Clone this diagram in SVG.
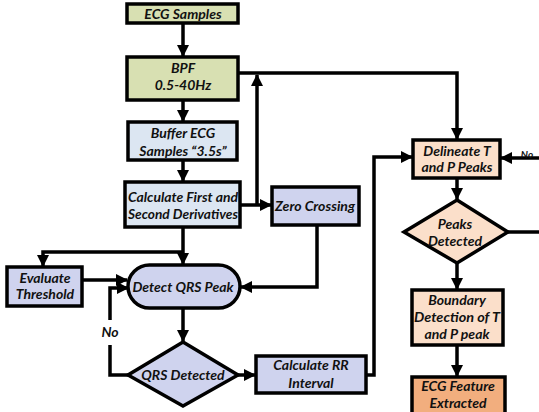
<svg xmlns="http://www.w3.org/2000/svg" width="539" height="412" viewBox="0 0 539 412">
<style>
.n{stroke:#000;stroke-width:3.5}
.g{fill:#d8e0b2}
.b{fill:#dce6f2}
.l{fill:#cfd3ee}
.p{fill:#fbdfca}
.o{fill:#f2ae7e}
text{font-family:Lato,"Open Sans","Liberation Sans",sans-serif;font-weight:bold;font-style:italic;font-size:14px;text-anchor:middle;fill:#111}
.c{fill:none;stroke:#000;stroke-width:3.5}
</style>
<defs>
<marker id="a" markerUnits="userSpaceOnUse" markerWidth="12" markerHeight="12" viewBox="0 0 12 12" refX="11" refY="6" orient="auto">
<path d="M0,0 L12,6 L0,12 Z" fill="#000"/>
</marker>
</defs>
<rect width="539" height="412" fill="#fff"/>
<g id="connectors">
<path class="c" d="M183 23 V56" marker-end="url(#a)"/>
<path class="c" d="M183 100 V121" marker-end="url(#a)"/>
<path class="c" d="M183 160 V181" marker-end="url(#a)"/>
<path class="c" d="M240 205 H271" marker-end="url(#a)"/>
<path class="c" d="M257 205 V75" marker-end="url(#a)"/>
<path class="c" d="M238 73 H457 V139" marker-end="url(#a)"/>
<path class="c" d="M183 227 V264" marker-end="url(#a)"/>
<path class="c" d="M183 252 H43 V266" marker-end="url(#a)"/>
<path class="c" d="M317 225 V287 H241" marker-end="url(#a)"/>
<path class="c" d="M82 280 H127" marker-end="url(#a)"/>
<path class="c" d="M183 308 V341" marker-end="url(#a)"/>
<path class="c" d="M128 375 H110 V345"/>
<path class="c" d="M110 320 V288 H128" marker-end="url(#a)"/>
<path class="c" d="M238 375 H255" marker-end="url(#a)"/>
<path class="c" d="M366 375 H374 V157 H412" marker-end="url(#a)"/>
<path class="c" d="M539 158 H501" marker-end="url(#a)"/>
<path class="c" d="M457 178 V199" marker-end="url(#a)"/>
<path class="c" d="M508 232 H539"/>
<path class="c" d="M457 263 V289" marker-end="url(#a)"/>
<path class="c" d="M457 345 V376" marker-end="url(#a)"/>
<text x="110" y="337">No</text>
<text x="527" y="158" style="font-size:10px">No</text>
</g>
<g id="ecg-samples"><rect class="n g" x="127" y="4" width="111" height="19"/><text x="183" y="19">ECG Samples</text></g>
<g id="bpf"><rect class="n g" x="127" y="57" width="111" height="43"/><text x="183" y="73">BPF</text><text x="183" y="90">0.5-40Hz</text></g>
<g id="buffer"><rect class="n b" x="128" y="122" width="109" height="38"/><text x="183" y="138">Buffer ECG</text><text x="183" y="156">Samples “3.5s”</text></g>
<g id="derivatives"><rect class="n b" x="125" y="182" width="115" height="45"/><text x="183" y="202" textLength="110" lengthAdjust="spacingAndGlyphs">Calculate First and</text><text x="183" y="219" textLength="110" lengthAdjust="spacingAndGlyphs">Second Derivatives</text></g>
<g id="zero-crossing"><rect class="n l" x="272" y="187" width="87" height="38"/><text x="315" y="211" textLength="80" lengthAdjust="spacingAndGlyphs">Zero Crossing</text></g>
<g id="evaluate"><rect class="n l" x="7" y="267" width="75" height="39"/><text x="45" y="283">Evaluate</text><text x="45" y="299">Threshold</text></g>
<g id="detect-qrs"><rect class="n l" x="128" y="265" width="112" height="43" rx="21.5"/><text x="183" y="292">Detect QRS Peak</text></g>
<g id="qrs-detected"><path class="n l" d="M183 342 L238 375 L183 406 L128 375 Z"/><text x="183" y="380">QRS Detected</text></g>
<g id="rr-interval"><rect class="n l" x="256" y="356" width="110" height="37"/><text x="311" y="370">Calculate RR</text><text x="311" y="388">Interval</text></g>
<g id="delineate"><rect class="n p" x="413" y="140" width="87" height="38"/><text x="457" y="156">Delineate T</text><text x="457" y="172">and P Peaks</text></g>
<g id="peaks-detected"><path class="n p" d="M457 200 L508 232 L457 263 L404 232 Z"/><text x="455" y="229">Peaks</text><text x="455" y="246">Detected</text></g>
<g id="boundary"><rect class="n p" x="412" y="290" width="91" height="55"/><text x="457" y="305">Boundary</text><text x="457" y="322" textLength="86" lengthAdjust="spacingAndGlyphs">Detection of T</text><text x="457" y="339">and P peak</text></g>
<g id="feature"><rect class="n o" x="412" y="377" width="93" height="40"/><text x="458" y="391">ECG Feature</text><text x="458" y="408">Extracted</text></g>
</svg>
